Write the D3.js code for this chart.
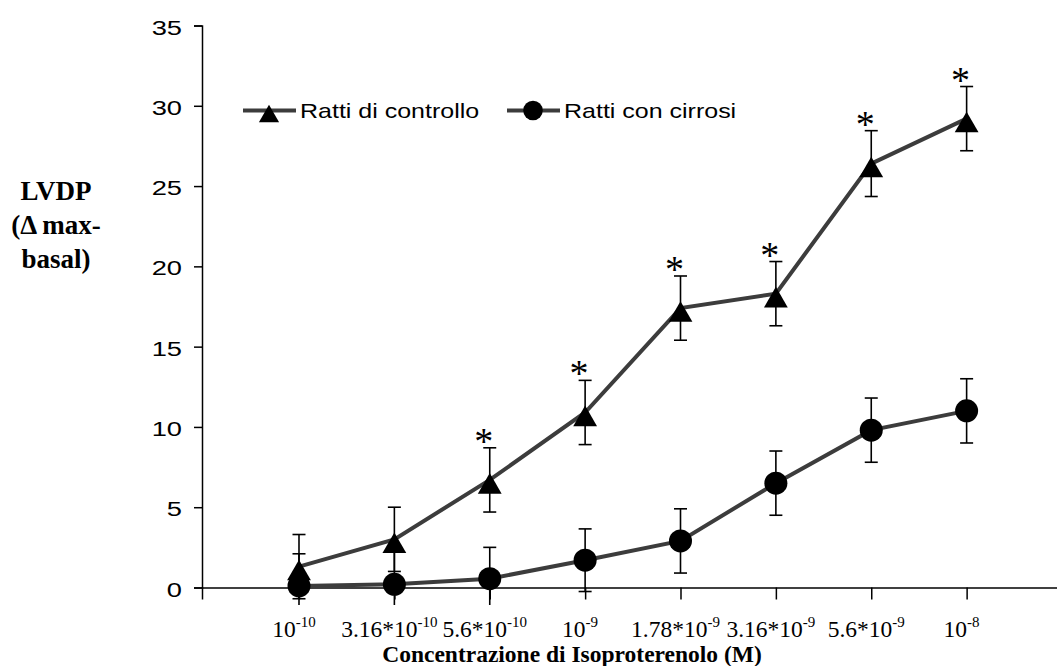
<!DOCTYPE html>
<html>
<head>
<meta charset="utf-8">
<script src="https://cdn.jsdelivr.net/npm/d3@7"></script>
<style>
  body { margin: 0; background: #fff; }
  svg { display: block; }
</style>
</head>
<body>
<svg id="chart" width="1057" height="666"></svg>
<script>
// categories (concentrazione, M) -> base and exponent of the label
var tickBase = ["10", "3.16*10", "5.6*10", "10", "1.78*10", "3.16*10", "5.6*10", "10"];
var tickExp  = ["-10", "-10", "-10", "-9", "-9", "-9", "-9", "-8"];

// series
var seriesNames = ["Ratti di controllo", "Ratti con cirrosi"];
var controllo    = [1.3, 3.0, 6.7, 10.9, 17.4, 18.3, 26.4, 29.2];
var controlloErr = [2.0, 2.0, 2.0, 2.0, 2.0, 2.0, 2.05, 2.0];
var cirrosi      = [0.1, 0.2, 0.55, 1.7, 2.9, 6.5, 9.8, 11.0];
var cirrosiErr   = [2.0, 2.0, 1.95, 1.95, 2.0, 2.0, 2.0, 2.0];
var significativo = [0, 0, 1, 1, 1, 1, 1, 1];

var yTicks = [0, 5, 10, 15, 20, 25, 30, 35];

var svg = d3.select("#chart");

var plot = { left: 202, right: 1062, top: 25.5, bottom: 587.5 };

var x = d3.scaleLinear()
	.domain([-1.017, 8.0])
	.range([plot.left, plot.right]);

var y = d3.scaleLinear()
	.domain([0, 35])
	.range([plot.bottom, plot.top]);

var lineColor = "#3c3c3c";
var serif = "'Liberation Serif', 'Times New Roman', serif";
var sans = "'Liberation Sans', Arial, sans-serif";

// y axis
var yAxis = d3.axisLeft(y)
	.tickValues(yTicks)
	.tickSize(8)
	.tickFormat(d3.format("d"));

var gy = svg.append("g")
	.attr("transform", `translate(${plot.left},0)`)
	.call(yAxis);
gy.select(".domain").attr("stroke", "#000").attr("stroke-width", 1.5);
gy.selectAll(".tick line").attr("stroke", "#000").attr("stroke-width", 1.5);
gy.selectAll("text")
	.attr("x", 0)
	.attr("dy", "0.36em")
	.attr("transform", "translate(-20,1) scale(1.3,1)")
	.style("font-family", sans)
	.style("font-size", "21px")
	.attr("fill", "#000");

// x axis (ticks at the categories + one at the left edge)
var xAxis = d3.axisBottom(x)
	.tickValues([-1.017].concat(d3.range(tickBase.length)))
	.tickSize(12)
	.tickSizeOuter(0)
	.tickFormat("");

var gx = svg.append("g")
	.attr("transform", `translate(0,${plot.bottom})`)
	.call(xAxis);
gx.select(".domain").attr("stroke", "#000").attr("stroke-width", 1.5);
gx.selectAll(".tick line").attr("stroke", "#000").attr("stroke-width", 1.5);

// tick labels with superscript exponent
var labels = svg.append("g")
	.selectAll("text")
	.data(tickBase)
	.join("text")
	.attr("x", (d, i) => x(i) - 5)
	.attr("y", 637)
	.attr("text-anchor", "middle")
	.style("font-family", serif)
	.style("font-size", "23.5px")
	.attr("fill", "#000");
labels.append("tspan").text(d => d);
labels.append("tspan")
	.attr("dy", -10)
	.style("font-size", "15px")
	.text((d, i) => tickExp[i]);

// axis titles
svg.append("text")
	.attr("x", 572)
	.attr("y", 662)
	.attr("text-anchor", "middle")
	.style("font-family", serif)
	.style("font-weight", "bold")
	.style("font-size", "23.5px")
	.text("Concentrazione di Isoproterenolo (M)");

var yTitle = svg.append("text")
	.attr("text-anchor", "middle")
	.style("font-family", serif)
	.style("font-weight", "bold")
	.style("font-size", "27px");
["LVDP", "(\u0394 max-", "basal)"].forEach(function (t, i) {
	yTitle.append("tspan").attr("x", 56).attr("y", 200 + i * 34).text(t);
});

// clip for error bars (plot area reaches a little under the axis)
svg.append("clipPath").attr("id", "clip")
	.append("rect")
	.attr("x", 0).attr("y", 0)
	.attr("width", 1057).attr("height", 605);

var series = [
	{ name: seriesNames[0], values: controllo, err: controlloErr, shape: "tri" },
	{ name: seriesNames[1], values: cirrosi, err: cirrosiErr, shape: "circ" }
];

var line = d3.line()
	.x((d, i) => x(i))
	.y(d => y(d));

var triSize = 245;
var triShift = Math.sqrt(triSize / (3 * Math.sqrt(3)));

function drawMarker(g, shape, scale) {
	if (shape === "tri") {
		g.append("path")
			.attr("d", d3.symbol(d3.symbolTriangle, triSize * scale * scale)())
			.attr("transform", `translate(0,${triShift * scale})`)
			.attr("fill", "#000");
	} else {
		g.append("circle").attr("r", 11.5 * scale).attr("fill", "#000");
	}
}

series.forEach(function (s) {
	var g = svg.append("g");

	// error bars
	var eb = g.append("g").attr("clip-path", "url(#clip)")
		.selectAll("g")
		.data(s.values)
		.join("g")
		.attr("stroke", "#000")
		.attr("stroke-width", 1.6);
	eb.append("line")
		.attr("x1", (d, i) => x(i)).attr("x2", (d, i) => x(i))
		.attr("y1", (d, i) => y(d - s.err[i]))
		.attr("y2", (d, i) => y(d + s.err[i]));
	eb.append("line")
		.attr("x1", (d, i) => x(i) - 6.5).attr("x2", (d, i) => x(i) + 6.5)
		.attr("y1", (d, i) => y(d + s.err[i])).attr("y2", (d, i) => y(d + s.err[i]));
	eb.append("line")
		.attr("x1", (d, i) => x(i) - 6.5).attr("x2", (d, i) => x(i) + 6.5)
		.attr("y1", (d, i) => y(d - s.err[i])).attr("y2", (d, i) => y(d - s.err[i]));

	g.append("path")
		.datum(s.values)
		.attr("fill", "none")
		.attr("stroke", lineColor)
		.attr("stroke-width", 4)
		.attr("d", line);

	g.selectAll(".mk")
		.data(s.values)
		.join("g")
		.attr("class", "mk")
		.attr("transform", (d, i) => `translate(${x(i)},${y(d)})`)
		.each(function () { drawMarker(d3.select(this), s.shape, 1); });
});

// significance asterisks
svg.append("g")
	.selectAll("text")
	.data(controllo.map((d, i) => ({ v: d + controlloErr[i], i: i, s: significativo[i] })).filter(d => d.s))
	.join("text")
	.attr("x", d => x(d.i) - 6)
	.attr("y", d => y(d.v) + 6)
	.attr("text-anchor", "middle")
	.style("font-family", serif)
	.style("font-size", "38px")
	.text("*");

// legend
var legendX = [243, 507];
var legend = svg.append("g")
	.selectAll("g")
	.data(series)
	.join("g")
	.attr("transform", (d, i) => `translate(${legendX[i]},110.5)`);
legend.append("line")
	.attr("x1", 0).attr("x2", 53)
	.attr("stroke", lineColor)
	.attr("stroke-width", 4);
legend.append("g")
	.attr("transform", "translate(26,0)")
	.each(function (d) { drawMarker(d3.select(this), d.shape, 0.85); });
legend.append("text")
	.attr("transform", "translate(57,7.5) scale(1.19,1)")
	.style("font-family", sans)
	.style("font-size", "21px")
	.text(d => d.name);
</script>
</body>
</html>
